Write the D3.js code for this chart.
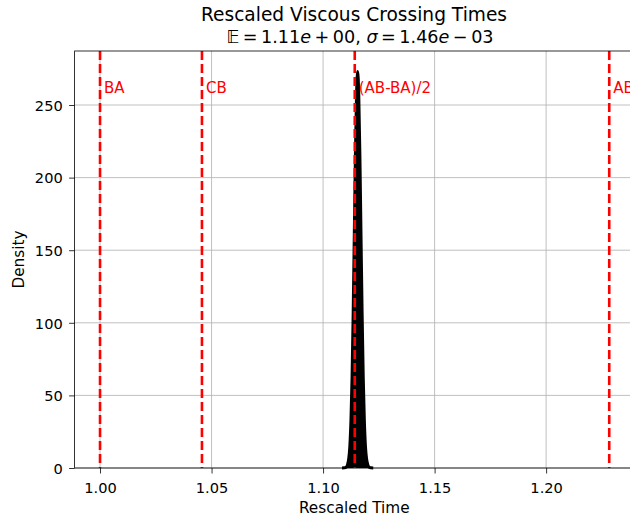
<!DOCTYPE html>
<html>
<head>
<meta charset="utf-8">
<script src="https://cdn.jsdelivr.net/npm/d3@7"></script>
<style>
  body { margin: 0; background: #fff; }
  svg { font-family: "DejaVu Sans", sans-serif; }
</style>
</head>
<body>
<svg id="chart" width="630" height="517"></svg>
<script>
// density curve (rescaled time, density)
var times = [1.1085, 1.1095, 1.1105, 1.1110, 1.1115, 1.1120, 1.1125, 1.1130, 1.1135, 1.1140, 1.1145,
             1.1150, 1.1155, 1.1160, 1.1165, 1.1170, 1.1175, 1.1180, 1.1185, 1.1190, 1.1195, 1.1200,
             1.1205, 1.1215, 1.1225];
var density = [0, 0.1, 0.8, 2.5, 6.4, 15, 33, 63, 107, 161, 216,
               257, 273, 257, 216, 161, 107, 63, 33, 15, 6.4, 2.5,
               0.8, 0.1, 0];

// reference lines
var refNames = ["BA", "CB", "(AB-BA)/2", "AB"];
var refTimes = [1.0000, 1.0457, 1.1142, 1.2283];

var xTicks = [1.00, 1.05, 1.10, 1.15, 1.20];
var yTicks = [0, 50, 100, 150, 200, 250];

var svg = d3.select("#chart");
var pLeft = 74.6, pRight = 634, pTop = 51, pBottom = 468;
var tickFont = 14.6, labelFont = 15.3, titleFont = 18.6;

var x = d3.scaleLinear().domain([0.9886, 1.2394]).range([pLeft, pRight]);
var y = d3.scaleLinear().domain([0, 287.2]).range([pBottom, pTop]);

var plot = svg.append("g");

// grid
plot.selectAll(".gx").data(xTicks).enter().append("line")
  .attr("x1", d => x(d)).attr("x2", d => x(d))
  .attr("y1", pTop).attr("y2", pBottom)
  .attr("stroke", "#b0b0b0").attr("stroke-width", 0.8);
plot.selectAll(".gy").data(yTicks).enter().append("line")
  .attr("x1", pLeft).attr("x2", pRight)
  .attr("y1", d => y(d)).attr("y2", d => y(d))
  .attr("stroke", "#b0b0b0").attr("stroke-width", 0.8);

// density
var pts = times.map((t, i) => [t, density[i]]);
plot.append("path").datum(pts)
  .attr("d", d3.area().x(d => x(d[0])).y0(y(0)).y1(d => y(d[1])).curve(d3.curveMonotoneX))
  .attr("fill", "#000");
plot.append("path").datum(pts)
  .attr("d", d3.line().x(d => x(d[0])).y(d => y(d[1])).curve(d3.curveMonotoneX))
  .attr("fill", "none").attr("stroke", "#000").attr("stroke-width", 3)
  .attr("stroke-linejoin", "round");

// reference lines
plot.selectAll(".ref").data(refTimes).enter().append("line")
  .attr("x1", d => x(d)).attr("x2", d => x(d))
  .attr("y1", pTop).attr("y2", pBottom)
  .attr("stroke", "#ff0000").attr("stroke-width", 2.6)
  .attr("stroke-dasharray", "9,4");
plot.selectAll(".reflab").data(refNames).enter().append("text")
  .attr("x", (d, i) => x(refTimes[i]) + 4)
  .attr("y", 93.3)
  .attr("fill", "#ff0000").attr("font-size", 15)
  .text(d => d);

// axes
var xAxis = svg.append("g").attr("transform", "translate(0," + pBottom + ")")
  .call(d3.axisBottom(x).tickValues(xTicks).tickFormat(d3.format(".2f")).tickSize(5.5));
var yAxis = svg.append("g").attr("transform", "translate(" + pLeft + ",0)")
  .call(d3.axisLeft(y).tickValues(yTicks).tickFormat(d3.format("d")).tickSize(5.5));
[xAxis, yAxis].forEach(function(a) {
  a.selectAll("text").attr("font-size", tickFont).attr("font-family", "DejaVu Sans").attr("fill", "#000");
  a.selectAll("line").attr("stroke", "#000").attr("stroke-width", 0.8);
  a.select(".domain").remove();
});
xAxis.selectAll("text").attr("y", 24.7).attr("dy", null);
yAxis.selectAll("text").attr("x", -11.9).attr("dy", "0.36em");

// spines
svg.append("rect").attr("x", pLeft).attr("y", pTop)
  .attr("width", pRight - pLeft).attr("height", pBottom - pTop)
  .attr("fill", "none").attr("stroke", "#000").attr("stroke-width", 0.8);

// labels
svg.append("text").attr("x", (pLeft + pRight) / 2).attr("y", 513.3)
  .attr("text-anchor", "middle").attr("font-size", labelFont).text("Rescaled Time");
svg.append("text").attr("transform", "translate(24," + ((pTop + pBottom) / 2) + ") rotate(-90)")
  .attr("text-anchor", "middle").attr("font-size", labelFont).text("Density");

// title
svg.append("text").attr("x", 354).attr("y", 20.7)
  .attr("text-anchor", "middle").attr("font-size", titleFont).text("Rescaled Viscous Crossing Times");
var t2 = svg.append("text").attr("x", 360).attr("y", 42.7)
  .attr("text-anchor", "middle").attr("font-size", 17.6);
var thin = "\u2009";
t2.append("tspan").text("\u{1D53C}" + thin + "=" + thin + "1.11");
t2.append("tspan").attr("font-style", "italic").text("e");
t2.append("tspan").text(thin + "+" + thin + "00, ");
t2.append("tspan").attr("font-style", "italic").text("\u03C3");
t2.append("tspan").text(thin + "=" + thin + "1.46");
t2.append("tspan").attr("font-style", "italic").text("e");
t2.append("tspan").text(thin + "\u2212" + thin + "03");
</script>
</body>
</html>
